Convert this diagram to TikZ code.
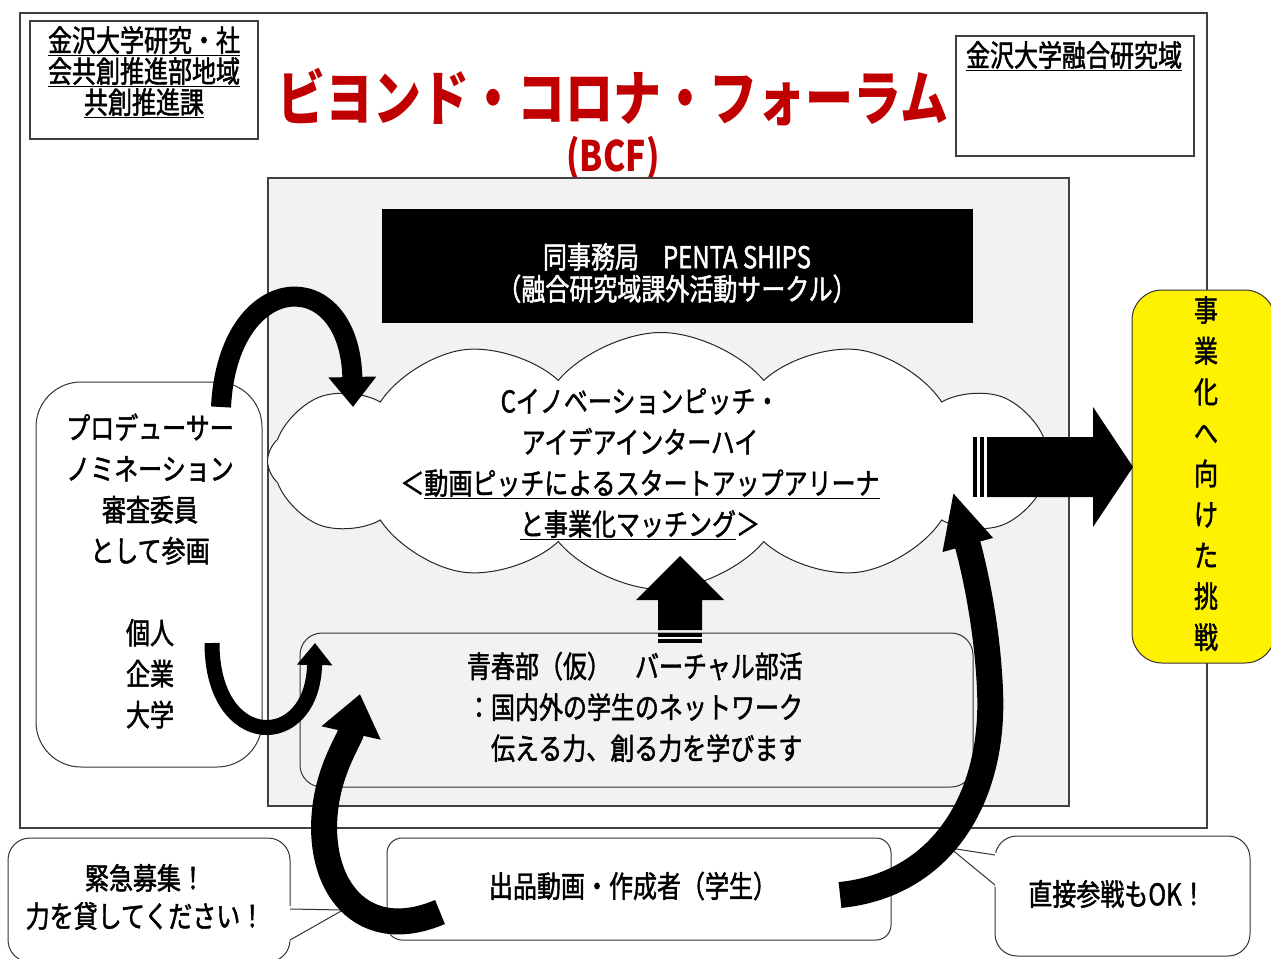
\documentclass[tikz,border=0pt]{standalone}
\usepackage{fontspec}
\newfontfamily\jp[FakeStretch=0.8,FakeBold=1.5]{Noto Sans CJK JP}
\newfontfamily\jpt[FakeStretch=0.8]{Noto Sans CJK JP}
\usetikzlibrary{shapes.symbols,arrows.meta}
\definecolor{titlered}{HTML}{C00000}
\definecolor{panelgray}{HTML}{F2F2F2}
\begin{document}
\begin{tikzpicture}[x=1pt,y=-1pt,
  frame/.style={draw=black!75,line width=1.4pt},
  thin/.style={draw=black!80,line width=1pt},
  jtxt/.style={inner sep=0pt,align=center,font=\jp\fontsize{30}{41}\selectfont},
  blk/.style={draw=black,line cap=butt},
]
\useasboundingbox (0,0) rectangle (1271,958);
\fill[white] (0,0) rectangle (1271,958);
% outer frame
\draw[frame] (20,13) rectangle (1207,828);
% top boxes
\node[frame,minimum width=228pt,minimum height=118pt,inner sep=0pt] (tlbox) at (144,80) {};
\node[jtxt,font=\jp\fontsize{30}{31}\selectfont] (tltext) at (144,72) {\underline{金沢大学研究・社}\\\underline{会共創推進部地域}\\\underline{共創推進課}};
\node[frame,minimum width=238pt,minimum height=120pt,inner sep=0pt] (trbox) at (1075,96) {};
\node[jtxt] (trtext) at (1074,56) {\underline{金沢大学融合研究域}};
% title
\node[jtxt,font=\jpt\bfseries\fontsize{60}{60}\selectfont,text=titlered] (title) at (613,97) {ビヨンド・コロナ・フォーラム};
\node[jtxt,font=\jpt\bfseries\fontsize{42}{42}\selectfont,text=titlered] (bcf) at (613,158) {(BCF)};
% gray panel
\node[frame,fill=panelgray,minimum width=801pt,minimum height=628pt,inner sep=0pt] (panel) at (668.5,492) {};
% black box
\node[fill=black,minimum width=591pt,minimum height=114pt,inner sep=0pt] (office) at (677.5,266) {};
\node[jtxt,font=\jp\fontsize{30}{32}\selectfont,text=white] (officetext) at (677,273) {同事務局　PENTA SHIPS\\（融合研究域課外活動サークル）};
% cloud
\node[cloud,cloud puffs=12,cloud puff arc=100,cloud ignores aspect,draw=black!85,line width=1pt,fill=white,minimum width=787pt,minimum height=257pt,inner sep=0pt] (cloud) at (661,461) {};
\node[jtxt] (cloudtext) at (640,464) {Cイノベーションピッチ・\\アイデアインターハイ\\＜\underline{動画ピッチによるスタートアップアリーナ}\\\underline{と事業化マッチング}＞};
% bottom panel box
\node[thin,fill=panelgray,rounded corners=22pt,minimum width=673pt,minimum height=154pt,inner sep=0pt] (club) at (636.5,710) {};
\node[jtxt,align=left] (clubtext) at (635,707) {青春部（仮）　バーチャル部活\\：国内外の学生のネットワーク\\　伝える力、創る力を学びます};
% left box
\node[thin,fill=white,rounded corners=45pt,minimum width=226pt,minimum height=385pt,inner sep=0pt] (judge) at (149,574.5) {};
\node[jtxt] (judgetext) at (150,571) {プロデューサー\\ノミネーション\\審査委員\\として参画\\\mbox{}\\個人\\企業\\大学};
% yellow box
\node[thin,fill=yellow,rounded corners=30pt,minimum width=143pt,minimum height=373pt,inner sep=0pt] (goal) at (1203.5,476.5) {};
\node[jtxt,font=\jp\fontsize{30}{40.9}\selectfont] (goaltext) at (1206,473.5) {事\\業\\化\\へ\\向\\け\\た\\挑\\戦};
% bottom callouts
\node[thin,fill=white,rounded corners=22pt,minimum width=282pt,minimum height=124pt,inner sep=0pt] (help) at (149,900) {};
\coordinate (helptip) at (343,910);
\fill[white] (289,906) -- (helptip) -- (289,941) -- cycle;
\draw[thin] (290,909) -- (helptip) -- (290,940);
\node[jtxt,font=\jp\fontsize{30}{38}\selectfont] (helptext) at (145,897) {緊急募集！\\力を貸してください！};
\node[thin,fill=white,rounded corners=15pt,minimum width=504pt,minimum height=102pt,inner sep=0pt] (video) at (639,889) {};
\node[jtxt,font=\jp\fontsize{30}{32}\selectfont] (videotext) at (633,886) {出品動画・作成者（学生）};
\node[thin,fill=white,rounded corners=22pt,minimum width=255pt,minimum height=120pt,inner sep=0pt] (direct) at (1122.5,896) {};
\coordinate (directtip) at (950,848);
\fill[white] (996,853) -- (directtip) -- (996,887) -- cycle;
\draw[thin] (995,855) -- (directtip) -- (995,885);
\node[jtxt,font=\jp\fontsize{30}{32}\selectfont] (directtext) at (1117,894) {直接参戦もOK！};
% striped right arrow
\fill (973,437) rectangle (977,497);
\fill (980,437) rectangle (984,497);
\fill (987,437) -- (1093,437) -- (1093,407) -- (1133,467) -- (1093,527) -- (1093,497) -- (987,497) -- cycle;
% striped up arrow
\fill (658,643) rectangle (702,639);
\fill (658,637) rectangle (702,633);
\fill (658,630) -- (658,600) -- (636,600) -- (680,556) -- (724,600) -- (702,600) -- (702,630) -- cycle;
% curved arrows
\coordinate (a1s) at (221,407);
\coordinate (a1e) at (353,407);
\draw[blk,line width=20pt,-{Triangle[length=30pt,width=46pt]}] (a1s) .. controls (228,268) and (350,262) .. (a1e);
\coordinate (a2s) at (212,643);
\coordinate (a2e) at (315,643);
\draw[blk,line width=15pt,-{Triangle[length=22pt,width=34pt]}] (a2s) .. controls (212,752) and (313,752) .. (a2e);
\coordinate (a3s) at (440,912);
\coordinate (a3e) at (360,694);
\draw[blk,line width=26pt,-{Triangle[length=40pt,width=58pt]}] (a3s) .. controls (355,948) and (310,875) .. (328,792) .. controls (335,760) and (350,738) .. (a3e);
\coordinate (a4s) at (840,895);
\coordinate (a4e) at (953,492);
\draw[blk,line width=26pt,-{Triangle[length=55pt,width=48pt]}] (a4s) .. controls (940,885) and (995,800) .. (990,690) .. controls (987,620) and (972,560) .. (a4e);
\end{tikzpicture}
\end{document}
